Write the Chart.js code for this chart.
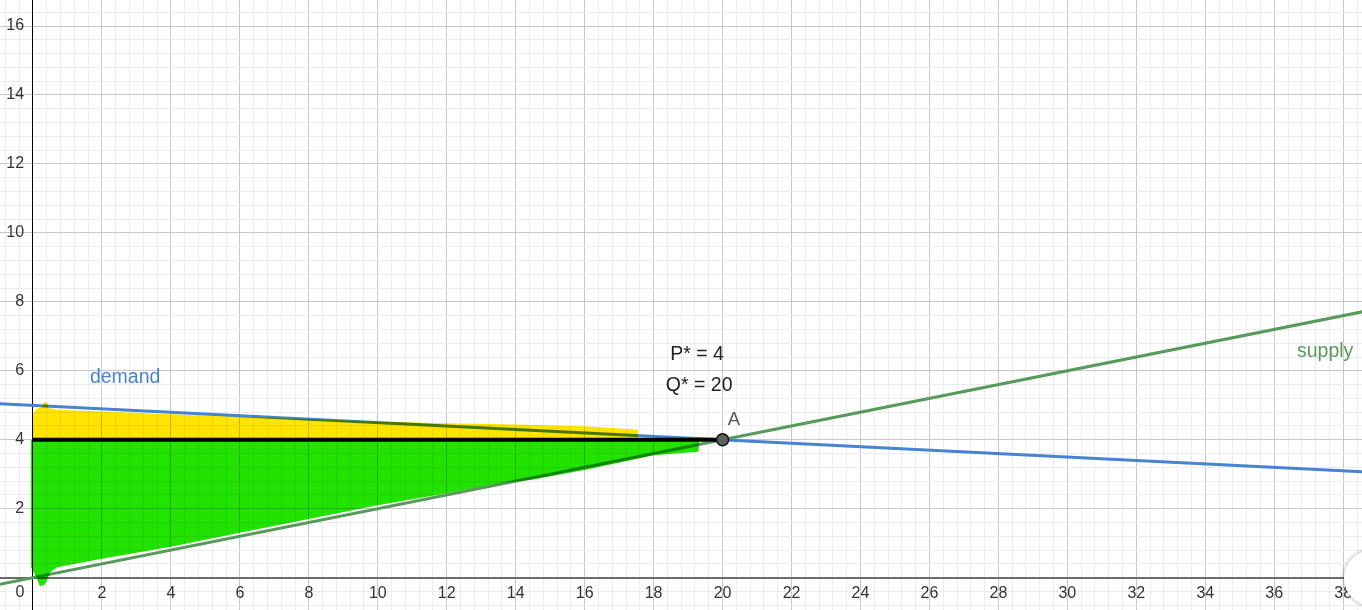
<!DOCTYPE html>
<html>
<head>
<meta charset="utf-8">
<script src="https://cdn.jsdelivr.net/npm/chart.js@4.4.1/dist/chart.umd.min.js"></script>
<style>
  html, body { margin: 0; padding: 0; background: #fff; overflow: hidden; }
  #wrap { position: relative; width: 1362px; height: 610px; }
  #btn { position: absolute; left: 1344px; top: 550px; width: 56px; height: 56px;
         border-radius: 50%; background: #fff; box-shadow: 0 0 4px rgba(0,0,0,0.35); }
</style>
</head>
<body>
<div id="wrap"><canvas id="graph"></canvas><div id="btn"></div></div>
<script>
// lines (quantity Q on x, price P on y)
const demandQ = [-1, 39];
const demandP = [5.05, 3.05];
const supplyQ = [-1, 39];
const supplyP = [-0.2, 7.8];
const priceQ = [0, 20];
const priceP = [4, 4];
const pointQ = [20];
const pointP = [4];

// hand drawn highlighter areas, filled down/up to P = 4
const yellowQ = [0, 0.1, 0.28, 0.3, 0.42, 0.45, 0.7, 2, 4, 6, 8, 10, 12, 14, 16, 17.5, 17.55];
const yellowP = [4.75, 4.9, 4.95, 5.08, 5.08, 4.92, 4.87, 4.82, 4.74, 4.66, 4.6, 4.53, 4.48, 4.44, 4.39, 4.3, 4.28];
const greenQ = [-0.07, -0.06, 0.1, 0.2, 0.35, 0.5, 0.7, 2, 4, 6, 8, 10, 12, 13.5, 14.5, 16, 18, 19.3, 19.32];
const greenP = [2.65, 0.3, 0, -0.25, -0.2, 0.15, 0.3, 0.55, 0.9, 1.3, 1.7, 2.1, 2.45, 2.74, 2.85, 3.12, 3.55, 3.65, 3.9];

// axes
const xRange = [-0.957, 38.545];
const yRange = [-0.937, 16.755];
const minorStep = 0.4;
const majorStep = 2;

const captions = ['demand', 'supply', 'P* = 4', 'Q* = 20', 'A', '0'];

function pts(qs, ps) {
    return qs.map((q, i) => ({x: q, y: ps[i]}));
}
function isMajor(v) {
    return Math.abs(v - Math.round(v / majorStep) * majorStep) < 1e-6;
}
function tickLabel(v) {
    const r = Math.round(v / majorStep) * majorStep;
    return (isMajor(v) && r !== 0) ? String(r) : '';
}
function noPad(scale) {
    scale.paddingTop = scale.paddingBottom = scale.paddingLeft = scale.paddingRight = 0;
}

// multiply blend for the highlighter fills
function drawOrder(chart) {
    return chart.getSortedVisibleDatasetMetas().slice().reverse();
}
function blendFor(chart, meta) {
    const ds = meta ? chart.data.datasets[meta.index] : null;
    chart.ctx.globalCompositeOperation = (ds && ds.highlight) ? 'multiply' : 'source-over';
}
const highlighter = {
    id: 'highlighter',
    beforeDatasetsDraw(chart) {
        blendFor(chart, drawOrder(chart)[0]);
    },
    beforeDatasetDraw(chart) {
        chart.ctx.globalCompositeOperation = 'source-over';
    },
    afterDatasetDraw(chart, args) {
        const seq = drawOrder(chart);
        const i = seq.indexOf(args.meta);
        blendFor(chart, seq[i + 1]);
    },
    afterDatasetsDraw(chart) {
        chart.ctx.globalCompositeOperation = 'source-over';
    }
};

const blue = 'rgb(70,132,208)';
const green = 'rgb(88,153,92)';
const notes = [
    {text: captions[0], q: 1.65, p: 5.79, align: 'left', color: blue, size: 19.5},
    {text: captions[1], q: 36.66, p: 6.55, align: 'left', color: green, size: 19.5},
    {text: captions[2], q: 19.26, p: 6.46, align: 'center', color: '#222', size: 19.5},
    {text: captions[3], q: 19.32, p: 5.56, align: 'center', color: '#222', size: 19.5},
    {text: captions[4], q: 20.33, p: 4.57, align: 'center', color: '#555', size: 18.5},
    {text: captions[5], q: -0.377, p: -0.444, align: 'center', color: '#333', size: 16}
];
const labels = {
    id: 'labels',
    afterDatasetsDraw(chart) {
        const ctx = chart.ctx;
        const sx = chart.scales.x, sy = chart.scales.y;
        ctx.save();
        ctx.globalCompositeOperation = 'source-over';
        ctx.textBaseline = 'middle';
        notes.forEach(n => {
            ctx.font = n.size + 'px "Liberation Sans", Arial, sans-serif';
            ctx.fillStyle = n.color;
            ctx.textAlign = n.align;
            ctx.fillText(n.text, sx.getPixelForValue(n.q), sy.getPixelForValue(n.p));
        });
        ctx.restore();
    }
};

document.addEventListener('DOMContentLoaded', function() {
    Chart.defaults.font.family = '"Liberation Sans", Arial, sans-serif';

    const gridColor = ctx => isMajor(ctx.tick.value) ? '#c8c8c8' : '#ececec';
    const tickOpts = {
        stepSize: minorStep,
        includeBounds: false,
        autoSkip: false,
        maxRotation: 0,
        minRotation: 0,
        color: '#333',
        font: {size: 16}
    };

    new Chart(document.getElementById('graph').getContext('2d'), {
        type: 'scatter',
        data: {
            datasets: [
                {   // equilibrium point A
                    data: pts(pointQ, pointP),
                    order: 0,
                    pointRadius: 6,
                    pointBackgroundColor: '#606060',
                    pointBorderColor: '#111',
                    pointBorderWidth: 1.5
                },
                {   // P* line
                    data: pts(priceQ, priceP),
                    order: 1,
                    showLine: true,
                    borderColor: '#000',
                    borderWidth: 4,
                    pointRadius: 0
                },
                {
                    data: pts(greenQ, greenP),
                    order: 2,
                    highlight: true,
                    showLine: true,
                    borderWidth: 0,
                    pointRadius: 0,
                    backgroundColor: 'rgb(34,226,0)',
                    fill: {value: 4}
                },
                {
                    data: pts(yellowQ, yellowP),
                    order: 3,
                    highlight: true,
                    showLine: true,
                    borderWidth: 0,
                    pointRadius: 0,
                    backgroundColor: 'rgb(255,228,0)',
                    fill: {value: 4}
                },
                {   // supply
                    data: pts(supplyQ, supplyP),
                    order: 4,
                    showLine: true,
                    borderColor: green,
                    borderWidth: 3,
                    pointRadius: 0
                },
                {   // demand
                    data: pts(demandQ, demandP),
                    order: 5,
                    showLine: true,
                    borderColor: blue,
                    borderWidth: 3,
                    pointRadius: 0
                }
            ]
        },
        options: {
            responsive: true,
            maintainAspectRatio: false,
            animation: false,
            layout: {padding: 0, autoPadding: false},
            plugins: {
                legend: false,
                tooltip: {enabled: false}
            },
            scales: {
                x: {
                    type: 'linear',
                    min: xRange[0],
                    max: xRange[1],
                    position: {y: 0},
                    grid: {color: gridColor, lineWidth: 1, drawTicks: false},
                    border: {color: '#6b6b6b', width: 2},
                    ticks: Object.assign({}, tickOpts, {padding: 6, callback: tickLabel}),
                    afterFit: noPad
                },
                y: {
                    type: 'linear',
                    min: yRange[0],
                    max: yRange[1],
                    position: {x: 0},
                    grid: {color: gridColor, lineWidth: 1, drawTicks: false},
                    border: {color: '#000', width: 1},
                    // labels of a positioned y axis sit on the axis, pad them with spaces
                    ticks: Object.assign({}, tickOpts, {callback: v => {
                        const s = tickLabel(v);
                        return s ? s + '  ' : '';
                    }}),
                    afterFit: noPad
                }
            }
        },
        plugins: [highlighter, labels]
    });
});
</script>
</body>
</html>
